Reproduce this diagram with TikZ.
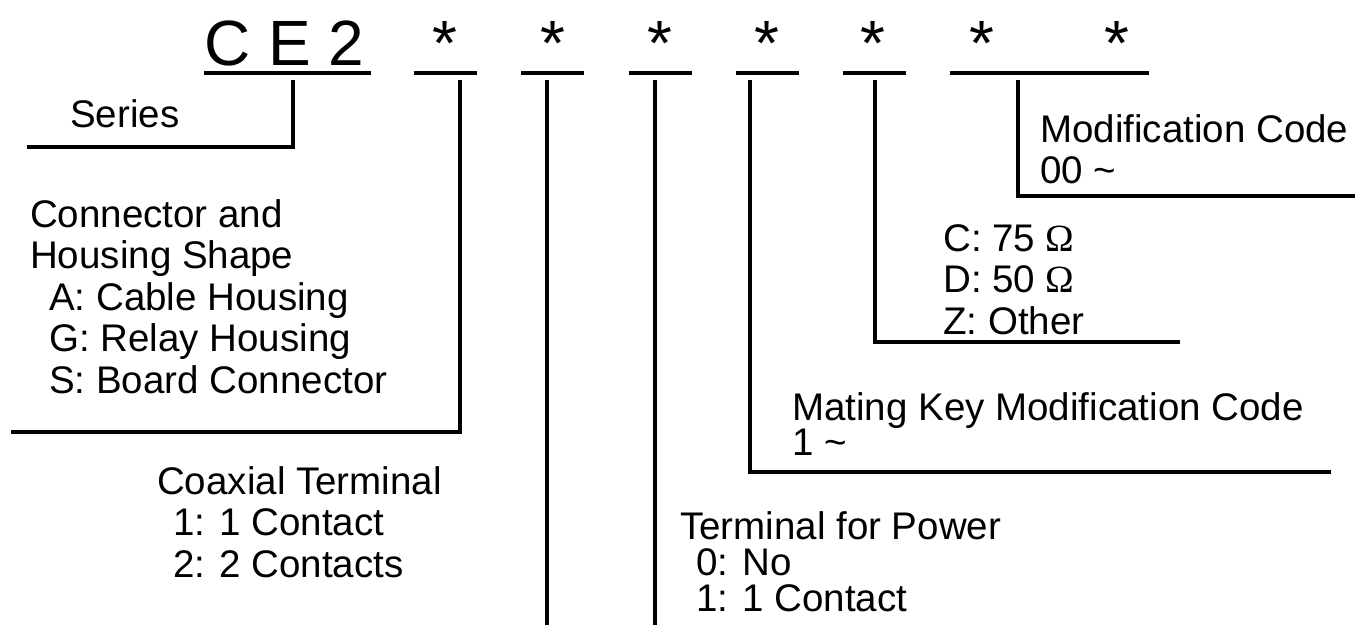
\documentclass[tikz,border=0pt]{standalone}
\usepackage{fontspec}
\setmainfont{Liberation Sans}
\newfontfamily\omegafont{Liberation Serif}

\begin{document}
\begin{tikzpicture}[x=1pt, y=-1pt,
    rule/.style={line width=4pt},
    code/.style={inner sep=0, anchor=base, font=\fontsize{64}{70}\selectfont},
    lbl/.style={inner sep=0, anchor=north west, align=left, font=\fontsize{38.5}{41.5}\selectfont}]

\useasboundingbox (0,0) rectangle (1358,625);

% Part number and its open positions
\node[code, anchor=base west] (ce2) at (204,65) {C E 2};
\foreach \x [count=\i] in {445,553,660,767,873,982,1117} {
    \node[code] (pos\i) at (\x,65) {*};
}
% Underlines of the fields
\foreach \a/\b in {204/371,414/477,521/584,629/692,736/799,843/906,950/1149} {
    \draw[rule] (\a,73) -- (\b,73);
}

% Tap points below the fields
\foreach \n/\x in {ser/293,shp/460,coax/547,pwr/655,key/750,imp/875,mod/1018} {
    \coordinate (\n) at (\x,80);
}
% Free ends of the leaders
\coordinate (serEnd) at (27,147);
\coordinate (shpEnd) at (11,432);
\coordinate (coaxEnd) at (547,625);
\coordinate (pwrEnd) at (655,625);
\coordinate (keyEnd) at (1331,472);
\coordinate (impEnd) at (1180,342);
\coordinate (modEnd) at (1355,196);

% Labels
\node[lbl, anchor=base west] (series) at (70,127) {Series};
\node[lbl] (shape) at (30,199) {Connector and\\Housing Shape\\\hspace*{19pt}A: Cable Housing\\\hspace*{19pt}G: Relay Housing\\\hspace*{19pt}S: Board Connector};
\node[lbl] (coaxial) at (157,466) {Coaxial Terminal\\\hspace*{16pt}1: 1 Contact\\\hspace*{16pt}2: 2 Contacts};
\node[lbl, font=\fontsize{38.5}{36}\selectfont] (power) at (680,511) {Terminal for Power\\\hspace*{16pt}0: No\\\hspace*{16pt}1: 1 Contact};
\node[lbl, font=\fontsize{38.5}{35}\selectfont] (matkey) at (792,392) {Mating Key Modification Code\\1 \textasciitilde};
\node[lbl] (impedance) at (943,224) {C: 75 {\omegafont Ω}\\D: 50 {\omegafont Ω}\\Z: Other};
\node[lbl] (modcode) at (1040,114) {Modification Code\\00 \textasciitilde};

% Leaders from the fields to their labels
\draw[rule] (ser) |- (serEnd);
\draw[rule] (shp) |- (shpEnd);
\draw[rule] (coax) -- (coaxEnd);
\draw[rule] (pwr) -- (pwrEnd);
\draw[rule] (key) |- (keyEnd);
\draw[rule] (imp) |- (impEnd);
\draw[rule] (mod) |- (modEnd);
\end{tikzpicture}
\end{document}
